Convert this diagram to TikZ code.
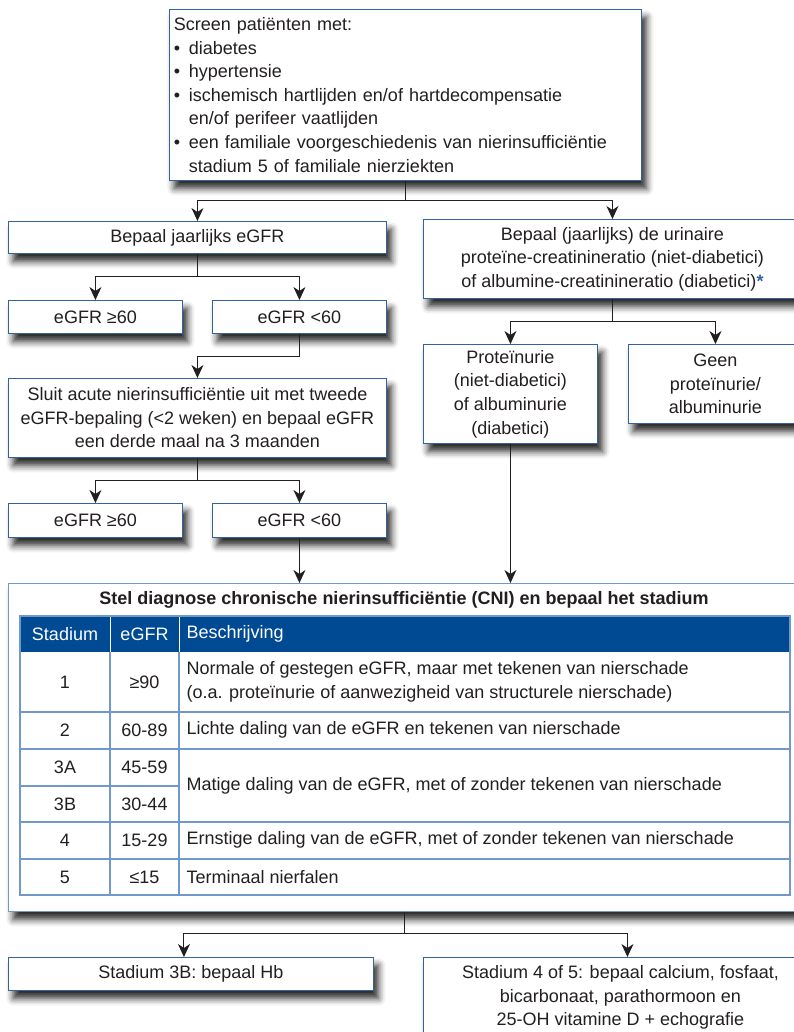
\documentclass[tikz,border=0pt]{standalone}
\usepackage{fontspec}
\setmainfont{Liberation Sans}
\usetikzlibrary{arrows.meta,shadows.blur}
\definecolor{boxblue}{RGB}{52,98,160}
\definecolor{headblue}{RGB}{0,74,147}
\definecolor{gridblue}{RGB}{112,152,200}
\definecolor{ink}{RGB}{35,31,32}
\newcommand{\bul}{\makebox[15pt][l]{\textbullet}}
\newcommand{\ind}{\hspace*{15pt}}

\begin{document}
\begin{tikzpicture}[x=1pt,y=-1pt,
			font=\fontsize{18pt}{23.6pt}\selectfont, text=ink,
			box/.style={draw=boxblue, line width=0.9pt, fill=white, inner sep=4pt, anchor=north west,
				blur shadow={shadow xshift=5pt, shadow yshift=-8pt, shadow blur radius=7pt, shadow opacity=85}},
			arr/.style={draw=ink, line width=1pt, -{Stealth[length=13pt,width=12pt,inset=4pt]}},
			grid/.style={draw=gridblue, line width=1.1pt}]
			\useasboundingbox (0,0) rectangle (794,1032);
			\clip (0,0) rectangle (794,1032);
			\node[box, minimum width=472pt, minimum height=171pt, text width=463pt, align=left] (scr) at (169,9)
				{Screen patiënten met:\\
				\bul diabetes\\
				\bul hypertensie\\
				\bul ischemisch hartlijden en/of hartdecompensatie\\
				\ind en/of perifeer vaatlijden\\
				\bul een familiale voorgeschiedenis van nierinsufficiëntie\\
				\ind stadium 5 of familiale nierziekten};
			\node[box, minimum width=378pt, minimum height=32pt] (jaar) at (8,221) {Bepaal jaarlijks eGFR};
			\node[box, minimum width=378pt, minimum height=79pt, align=center] (urin) at (423,219)
				{Bepaal (jaarlijks) de urinaire\\proteïne-creatinineratio (niet-diabetici)\\of albumine-creatinineratio (diabetici){\color{boxblue}\textbf{*}}};
			\node[box, minimum width=174pt, minimum height=33pt] (ge1) at (8,300) {eGFR ≥60};
			\node[box, minimum width=174pt, minimum height=33pt] (lt1) at (212,300) {eGFR <60};
			\node[box, minimum width=174pt, minimum height=99pt, align=center] (prot) at (423,344)
				{Proteïnurie\\(niet-diabetici)\\of albuminurie\\(diabetici)};
			\node[box, minimum width=174pt, minimum height=79pt, align=center] (geen) at (628,344)
				{Geen\\proteïnurie/\\albuminurie};
			\node[box, minimum width=378pt, minimum height=79pt, align=center] (sluit) at (8,378)
				{Sluit acute nierinsufficiëntie uit met tweede\\eGFR-bepaling (<2 weken) en bepaal eGFR\\een derde maal na 3 maanden};
			\node[box, minimum width=174pt, minimum height=34pt] (ge2) at (8,503) {eGFR ≥60};
			\node[box, minimum width=174pt, minimum height=34pt] (lt2) at (212,503) {eGFR <60};
			\node[box, draw=gridblue, minimum width=792pt, minimum height=328pt] (cni) at (8,583) {};
			\node (ttl) at (404,600) {\bfseries Stel diagnose chronische nierinsufficiëntie (CNI) en bepaal het stadium};
			\fill[headblue] (20,616) rectangle (790,652);
			\foreach \y in {712,749,822,859}
				\draw[grid] (20,\y) -- (790,\y);
			\draw[grid] (20,786) -- (179,786);
			\draw[grid] (110,652) -- (110,895) (179,652) -- (179,895);
			\draw[white, line width=1pt] (110,616) -- (110,652) (179,616) -- (179,652);
			\draw[grid] (20,616) rectangle (790,895);
			\node[text=white] (hst) at (65,634) {Stadium};
			\node[text=white] (hgf) at (144.5,634) {eGFR};
			\node[text=white, anchor=west] (hbe) at (183,634) {Beschrijving};
			\foreach \y/\st/\gf in {682/1/{≥90}, 730/2/60-89, 767/3A/45-59, 804/3B/30-44, 840/4/15-29, 877/5/{≤15}} {
				\node (st\st) at (65,\y) {\st};
				\node (gf\st) at (144.5,\y) {\gf};
			}
			\node[anchor=west, align=left] (be1) at (183,682)
				{Normale of gestegen eGFR, maar met tekenen van nierschade\\(o.a. proteïnurie of aanwezigheid van structurele nierschade)};
			\node[anchor=west] (be2) at (183,730) {Lichte daling van de eGFR en tekenen van nierschade};
			\node[anchor=west] (be3) at (183,786) {Matige daling van de eGFR, met of zonder tekenen van nierschade};
			\node[anchor=west] (be4) at (183,840) {Ernstige daling van de eGFR, met of zonder tekenen van nierschade};
			\node[anchor=west] (be5) at (183,877) {Terminaal nierfalen};
			\node[box, minimum width=365pt, minimum height=33pt] (s3b) at (8,957) {Stadium 3B: bepaal Hb};
			\node[box, minimum width=394pt, minimum height=80pt, align=center] (s45) at (423,957)
				{Stadium 4 of 5: bepaal calcium, fosfaat,\\bicarbonaat, parathormoon en\\25-OH vitamine D + echografie};
			\draw[arr] (scr.south) -- ++(0,20) coordinate (c1) -| (jaar);
			\draw[arr] (c1) -| (urin);
			\draw[arr] (jaar.south) -- ++(0,23) coordinate (c2) -| (ge1);
			\draw[arr] (c2) -| (lt1);
			\draw[arr] (urin.south) -- ++(0,23) coordinate (c3) -| (prot);
			\draw[arr] (c3) -| (geen);
			\draw[arr] (lt1.south) -- ++(0,23) -| (sluit);
			\draw[arr] (sluit.south) -- ++(0,23) coordinate (c4) -| (ge2);
			\draw[arr] (c4) -| (lt2);
			\draw[arr] (lt2.south) -- (lt2.south |- cni.north);
			\draw[arr] (prot.south) -- (prot.south |- cni.north);
			\draw[arr] (cni.south) -- ++(0,22) coordinate (c5) -| ([xshift=-7pt]s3b.north);
			\draw[arr] (c5) -| ([xshift=7pt]s45.north);
\end{tikzpicture}
\end{document}
